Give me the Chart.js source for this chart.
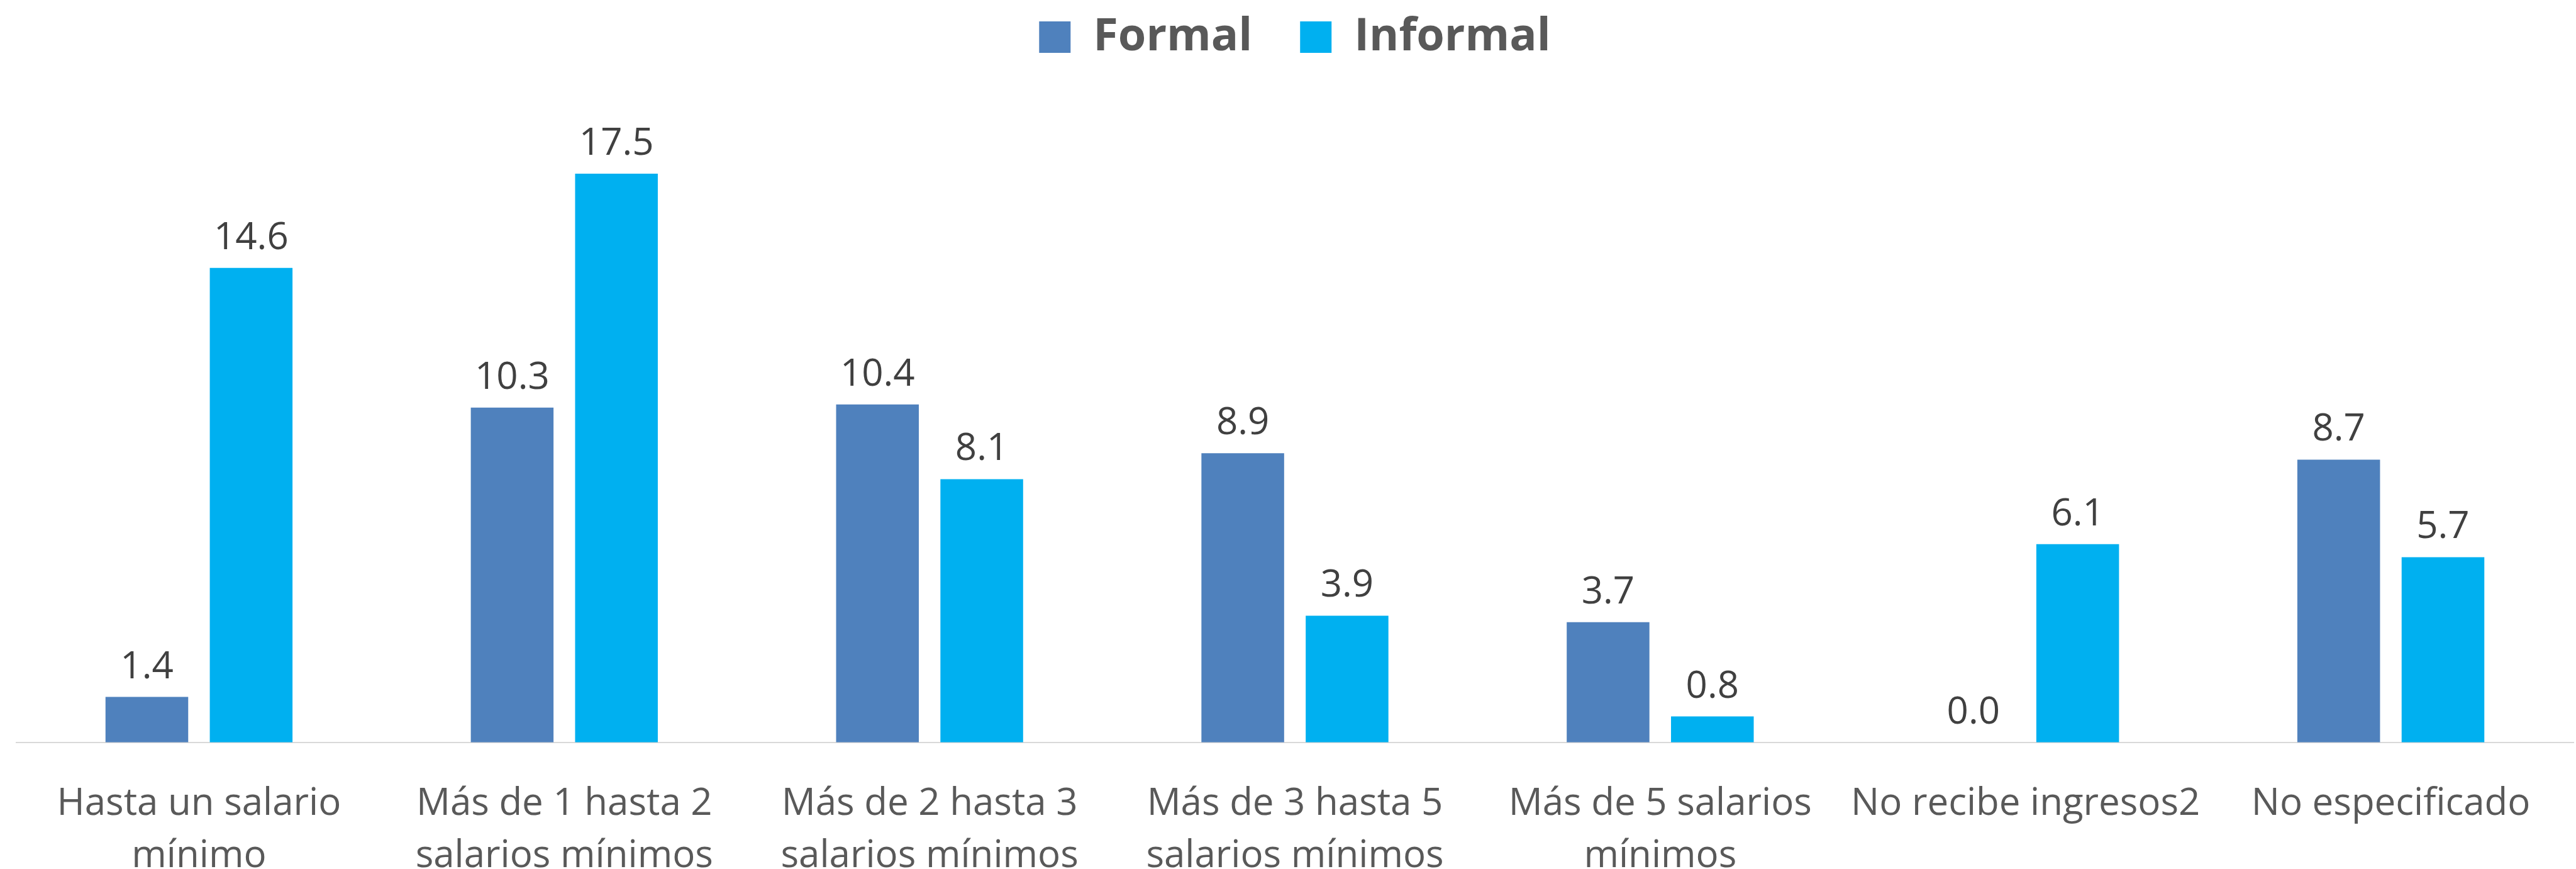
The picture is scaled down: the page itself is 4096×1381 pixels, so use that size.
<!DOCTYPE html>
<html>
<head>
<meta charset="utf-8">
<script src="https://cdn.jsdelivr.net/npm/chart.js@4.4.1/dist/chart.umd.min.js"></script>
<style>
  html, body { margin: 0; padding: 0; background: #ffffff; }
  #wrap { width: 4096px; height: 1381px; position: relative; }
</style>
</head>
<body>
<div id="wrap"><canvas id="chart"></canvas></div>
<script>
// categories and values
const categories = [
   ['Hasta un salario', 'mínimo'],
   ['Más de 1 hasta 2', 'salarios mínimos'],
   ['Más de 2 hasta 3', 'salarios mínimos'],
   ['Más de 3 hasta 5', 'salarios mínimos'],
   ['Más de 5 salarios', 'mínimos'],
   'No recibe ingresos2',
   'No especificado'
];
const formalValues = [1.4, 10.3, 10.4, 8.9, 3.7, 0.0, 8.7];
const informalValues = [14.6, 17.5, 8.1, 3.9, 0.8, 6.1, 5.7];
const seriesNames = ['Formal', 'Informal'];

const FONT = "'Open Sans', 'Noto Sans', sans-serif";

// value labels above every bar
let valueLabels = {
   id: 'valueLabels',
   afterDatasetsDraw: (chart) => {
      const ctx = chart.ctx;
      ctx.save();
      ctx.font = '60px ' + FONT;
      ctx.fillStyle = '#404040';
      ctx.textAlign = 'center';
      ctx.textBaseline = 'alphabetic';
      chart.data.datasets.forEach((ds, i) => {
         chart.getDatasetMeta(i).data.forEach((bar, j) => {
            ctx.fillText(ds.data[j].toFixed(1), bar.x, bar.y - 30);
         });
      });
      ctx.restore();
   }
};

new Chart(document.getElementById('chart'), {
   type: 'bar',
   data: {
      labels: categories,
      datasets: [{
         label: seriesNames[0],
         data: formalValues,
         backgroundColor: '#4F81BD'
      }, {
         label: seriesNames[1],
         data: informalValues,
         backgroundColor: '#00B0F0'
      }]
   },
   plugins: [valueLabels],
   options: {
      responsive: true,
      maintainAspectRatio: false,
      animation: false,
      events: [],
      categoryPercentage: 0.571,
      barPercentage: 0.793,
      layout: {
         padding: { left: 26, right: 4, top: -53, bottom: -70 }
      },
      plugins: {
         legend: {
            position: 'top',
            padding: 4,
            labels: {
               boxWidth: 50,
               boxHeight: 50,
               padding: 76,
               color: '#595959',
               font: { family: FONT, size: 72, weight: 'bold' }
            }
         },
         tooltip: { enabled: false }
      },
      scales: {
         x: {
            grid: { display: false },
            border: { display: true, color: '#d9d9d9', width: 2 },
            ticks: {
               color: '#595959',
               padding: 48,
               maxRotation: 0,
               autoSkip: false,
               font: { family: FONT, size: 60, lineHeight: 1.393 }
            }
         },
         y: {
            display: false,
            min: 0,
            max: 20.81,
            grid: { display: false }
         }
      }
   }
});
</script>
</body>
</html>
